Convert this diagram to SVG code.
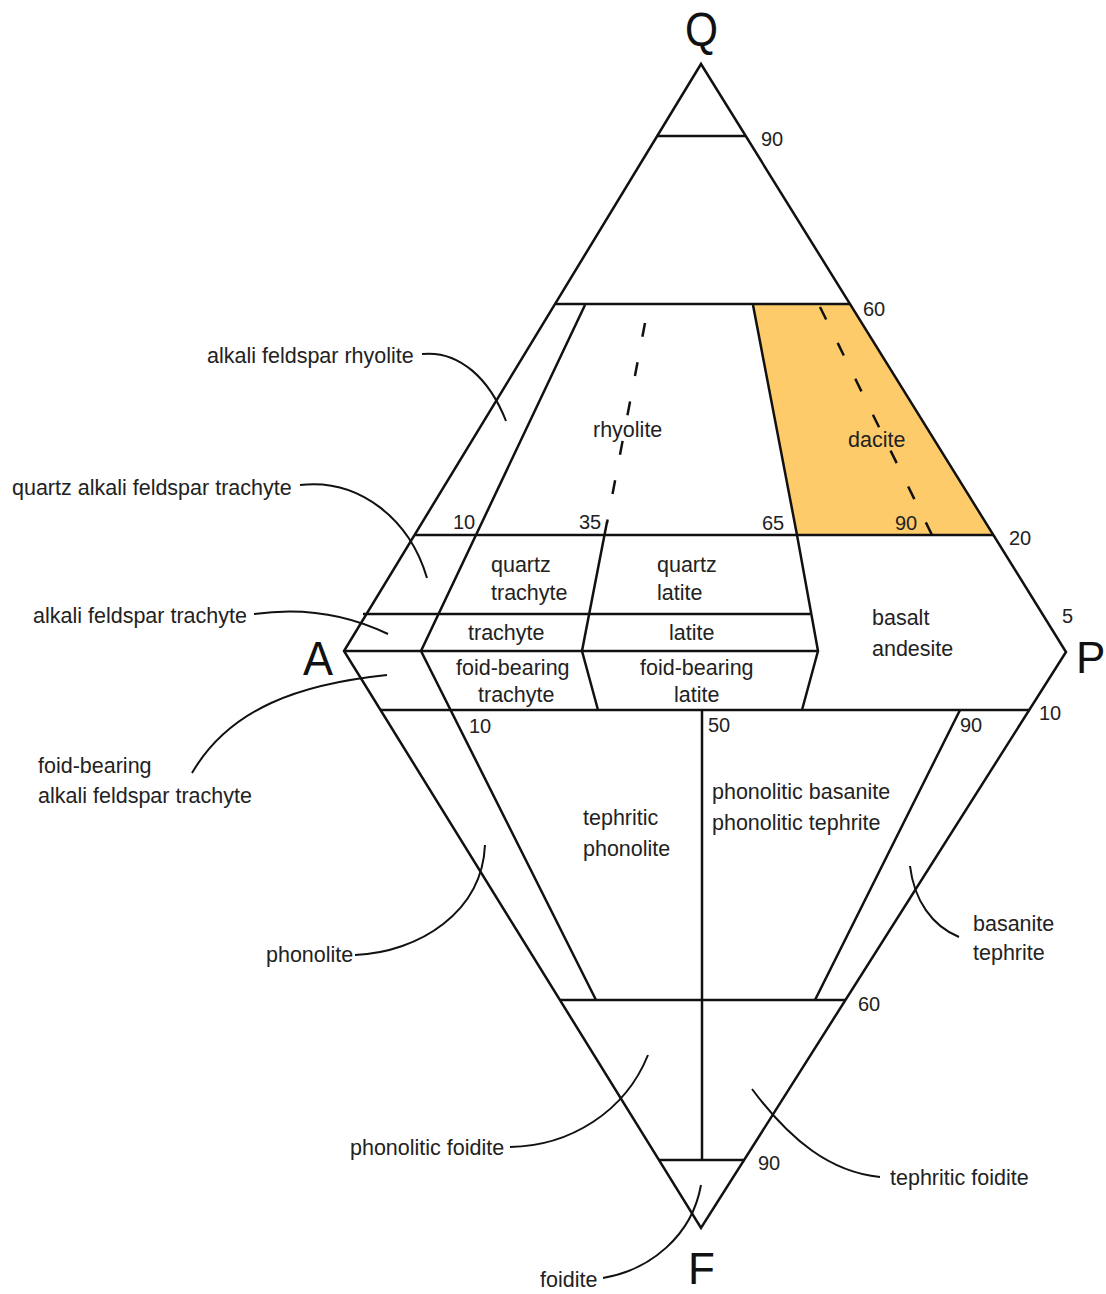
<svg xmlns="http://www.w3.org/2000/svg" width="1106" height="1294" viewBox="0 0 1106 1294">
<style>
.ln{fill:none;stroke:#111;stroke-width:2.5;stroke-linejoin:miter}
.dash{fill:none;stroke:#111;stroke-width:2.5;stroke-dasharray:14 26}
.ld{fill:none;stroke:#111;stroke-width:2}
.lb{font-family:"Liberation Sans",Arial,sans-serif;font-size:21.5px;fill:#222}
.num{font-family:"Liberation Sans",Arial,sans-serif;font-size:20px;fill:#222}
.big{font-family:"Liberation Sans",Arial,sans-serif;font-size:48px;fill:#111}
.big2{font-family:"Liberation Sans",Arial,sans-serif;font-size:44px;fill:#111}
</style>
<rect width="1106" height="1294" fill="#fff"/>
<g id="dacite-fill">
<polygon points="753,305 850,305 993,535 797,535" fill="#FECB6A"/>
</g>
<g id="boundaries">
<polygon class="ln" points="701,64 1066,652 701,1228 344,651"/>
<line class="ln" x1="658" y1="136" x2="746" y2="136"/>
<line class="ln" x1="556" y1="304" x2="850" y2="304"/>
<line class="ln" x1="415" y1="535" x2="994" y2="535"/>
<line class="ln" x1="363" y1="614" x2="810" y2="614"/>
<line class="ln" x1="344" y1="651" x2="818" y2="651"/>
<line class="ln" x1="381" y1="710" x2="1030" y2="710"/>
<line class="ln" x1="560" y1="1000" x2="846" y2="1000"/>
<line class="ln" x1="659" y1="1160" x2="745" y2="1160"/>
<polyline class="ln" points="585,305 421,651 596,1000"/>
<polyline class="ln" points="607,522 582,651 598,710"/>
<polyline class="ln" points="753,305 797,535 818,651 802,710"/>
<line class="ln" x1="960" y1="710" x2="815" y2="1000"/>
<line class="ln" x1="702" y1="710" x2="702" y2="1160"/>
<line class="dash" x1="645" y1="323" x2="607" y2="523"/>
<line class="dash" x1="820" y1="307" x2="932" y2="535"/>
</g>
<g id="connectors">
<path class="ld" d="M422,354 C460,350 490,380 506,421"/>
<path class="ld" d="M300,485 C360,478 410,520 427,578"/>
<path class="ld" d="M254,614 C310,606 355,618 388,634"/>
<path class="ld" d="M192,773 C230,708 300,684 387,675"/>
<path class="ld" d="M355,955 C420,952 482,912 485,845"/>
<path class="ld" d="M510,1147 C570,1146 625,1112 648,1055"/>
<path class="ld" d="M603,1278 C650,1270 692,1236 701,1185"/>
<path class="ld" d="M752,1089 C790,1140 830,1172 880,1177"/>
<path class="ld" d="M910,866 C914,900 932,926 959,937"/>
</g>
<g id="apex-Q"><text class="big" x="685" y="46" textLength="33" lengthAdjust="spacingAndGlyphs">Q</text></g>
<g id="apex-A"><text class="big" x="303" y="675" textLength="30" lengthAdjust="spacingAndGlyphs">A</text></g>
<g id="apex-P"><text class="big2" x="1076" y="673">P</text></g>
<g id="apex-F"><text class="big2" x="688" y="1284">F</text></g>
<g id="scale-numbers">
<text class="num" x="761" y="146">90</text>
<text class="num" x="863" y="316">60</text>
<text class="num" x="453" y="529">10</text>
<text class="num" x="579" y="529">35</text>
<text class="num" x="762" y="530">65</text>
<text class="num" x="895" y="530">90</text>
<text class="num" x="1009" y="545">20</text>
<text class="num" x="1062" y="623">5</text>
<text class="num" x="1039" y="720">10</text>
<text class="num" x="469" y="733">10</text>
<text class="num" x="708" y="732">50</text>
<text class="num" x="960" y="732">90</text>
<text class="num" x="858" y="1011">60</text>
<text class="num" x="758" y="1170">90</text>
</g>
<g id="rhyolite"><text class="lb" x="593" y="437">rhyolite</text></g>
<g id="dacite"><text class="lb" x="848" y="447">dacite</text></g>
<g id="quartz-trachyte"><text class="lb" x="491" y="572">quartz</text><text class="lb" x="491" y="600">trachyte</text></g>
<g id="quartz-latite"><text class="lb" x="657" y="572">quartz</text><text class="lb" x="657" y="600">latite</text></g>
<g id="trachyte"><text class="lb" x="468" y="640">trachyte</text></g>
<g id="latite"><text class="lb" x="669" y="640">latite</text></g>
<g id="foid-bearing-trachyte"><text class="lb" x="456" y="675">foid-bearing</text><text class="lb" x="478" y="702">trachyte</text></g>
<g id="foid-bearing-latite"><text class="lb" x="640" y="675">foid-bearing</text><text class="lb" x="674" y="702">latite</text></g>
<g id="basalt-andesite"><text class="lb" x="872" y="625">basalt</text><text class="lb" x="872" y="656">andesite</text></g>
<g id="tephritic-phonolite"><text class="lb" x="583" y="825">tephritic</text><text class="lb" x="583" y="856">phonolite</text></g>
<g id="phonolitic-basanite"><text class="lb" x="712" y="799">phonolitic basanite</text><text class="lb" x="712" y="830">phonolitic tephrite</text></g>
<g id="alkali-feldspar-rhyolite"><text class="lb" x="207" y="363">alkali feldspar rhyolite</text></g>
<g id="quartz-alkali-feldspar-trachyte"><text class="lb" x="12" y="495">quartz alkali feldspar trachyte</text></g>
<g id="alkali-feldspar-trachyte"><text class="lb" x="33" y="623">alkali feldspar trachyte</text></g>
<g id="foid-bearing-alkali-feldspar-trachyte"><text class="lb" x="38" y="773">foid-bearing</text><text class="lb" x="38" y="803">alkali feldspar trachyte</text></g>
<g id="phonolite"><text class="lb" x="266" y="962">phonolite</text></g>
<g id="phonolitic-foidite"><text class="lb" x="350" y="1155">phonolitic foidite</text></g>
<g id="foidite"><text class="lb" x="540" y="1287">foidite</text></g>
<g id="tephritic-foidite"><text class="lb" x="890" y="1185">tephritic foidite</text></g>
<g id="basanite-tephrite"><text class="lb" x="973" y="931">basanite</text><text class="lb" x="973" y="960">tephrite</text></g>
</svg>
